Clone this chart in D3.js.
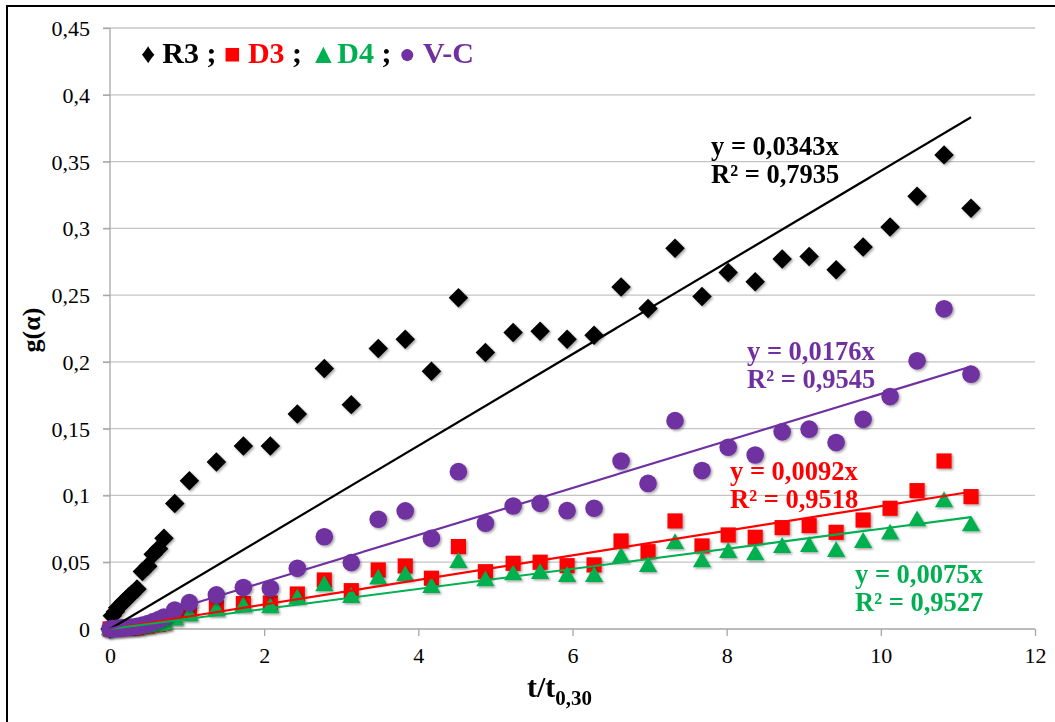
<!DOCTYPE html>
<html><head><meta charset="utf-8">
<script src="https://cdn.jsdelivr.net/npm/d3@7"></script>
<style>body{margin:0;background:#fff} svg{display:block} text{font-family:"Liberation Serif","Times New Roman",Tinos,"DejaVu Serif",serif}</style>
</head><body>
<svg id="chart" width="1055" height="722"></svg>
<script>
// ---- data ----
const xValues = [0, 0.03, 0.07, 0.10, 0.14, 0.17, 0.21, 0.24, 0.28, 0.35, 0.42, 0.49, 0.56, 0.63, 0.70, 0.84, 1.03,
  1.38, 1.73, 2.08, 2.43, 2.78, 3.13, 3.48, 3.83, 4.17, 4.52, 4.87, 5.23, 5.58, 5.93, 6.28, 6.63, 6.98, 7.33, 7.68, 8.02,
  8.37, 8.72, 9.07, 9.42, 9.77, 10.12, 10.47, 10.82, 11.17];
const r3Values = [0, 0.010, 0.013, 0.016, 0.018, 0.020, 0.022, 0.024, 0.026, 0.030, 0.043, 0.047, 0.056, 0.060, 0.068, 0.094, 0.111,
  0.125, 0.137, 0.137, 0.161, 0.195, 0.168, 0.210, 0.217, 0.193, 0.248, 0.207, 0.222, 0.223, 0.217, 0.220, 0.256, 0.240, 0.285, 0.249, 0.267,
  0.260, 0.277, 0.279, 0.269, 0.286, 0.301, 0.324, 0.355, 0.315];
const d3Values = [0, 0.0001, 0.0002, 0.0003, 0.0003, 0.0004, 0.0005, 0.0006, 0.0007, 0.0009, 0.0018, 0.0022, 0.0031, 0.0036, 0.0046, 0.0088, 0.0125,
  0.0160, 0.0190, 0.0195, 0.0262, 0.0367, 0.0287, 0.0442, 0.0472, 0.0380, 0.0617, 0.0429, 0.0492, 0.0500, 0.0474, 0.0480, 0.0659, 0.0579, 0.0809, 0.0622, 0.0704,
  0.0687, 0.0759, 0.0774, 0.0724, 0.0816, 0.0904, 0.1036, 0.1258, 0.0991];
const d4Values = [0, 0.0001, 0.0002, 0.0002, 0.0003, 0.0004, 0.0004, 0.0005, 0.0006, 0.0008, 0.0016, 0.0020, 0.0028, 0.0032, 0.0041, 0.0075, 0.0105,
  0.0142, 0.0172, 0.0165, 0.0230, 0.0330, 0.0242, 0.0380, 0.0404, 0.0317, 0.0504, 0.0367, 0.0412, 0.0422, 0.0399, 0.0399, 0.0542, 0.0474, 0.0646, 0.0509, 0.0579,
  0.0562, 0.0617, 0.0624, 0.0587, 0.0654, 0.0717, 0.0816, 0.0959, 0.0779];
const vcValues = [0, 0.0002, 0.0003, 0.0005, 0.0007, 0.0009, 0.0011, 0.0013, 0.0015, 0.0020, 0.0030, 0.0040, 0.0055, 0.0070, 0.0090, 0.0142, 0.0197,
  0.0255, 0.0310, 0.0305, 0.0454, 0.0691, 0.0497, 0.0822, 0.0884, 0.0679, 0.1178, 0.0792, 0.0921, 0.0941, 0.0886, 0.0904, 0.1258, 0.1090, 0.1560, 0.1186, 0.1361,
  0.1303, 0.1476, 0.1496, 0.1396, 0.1570, 0.1740, 0.2008, 0.2397, 0.1908];
const seriesNames = ["R3", "D3", "D4", "V-C"];
const trendSlopes = ["0,0343", "0,0092", "0,0075", "0,0176"];
const trendR2 = ["0,7935", "0,9518", "0,9527", "0,9545"];
const yTickLabels = ["0", "0,05", "0,1", "0,15", "0,2", "0,25", "0,3", "0,35", "0,4", "0,45"];
const xTickLabels = ["0", "2", "4", "6", "8", "10", "12"];

(function draw() {
const svg = d3.select("#chart");
const W = 1055, H = 722;
const pLeft = 110, pRight = 1035, pTop = 28, pBottom = 629;
const x = d3.scaleLinear().domain([0, 12]).range([pLeft, pRight]);
const y = d3.scaleLinear().domain([0, 0.45]).range([pBottom, pTop]);

svg.append("rect").attr("width", W).attr("height", H).attr("fill", "#fff");
svg.append("rect").attr("x", 7).attr("y", 6).attr("width", 1200).attr("height", 900)
  .attr("fill", "none").attr("stroke", "#000").attr("stroke-width", 2);

const defs = svg.append("defs");
const f = defs.append("filter").attr("id", "sh").attr("x", "-50%").attr("y", "-50%").attr("width", "200%").attr("height", "200%");
f.append("feDropShadow").attr("dx", 1.5).attr("dy", 1.5).attr("stdDeviation", 1.2)
  .attr("flood-color", "#000").attr("flood-opacity", 0.35);

// gridlines
const yTicks = yTickLabels.map((_, i) => i * 0.05);
svg.append("g").selectAll("line").data(yTicks.slice(1)).join("line")
  .attr("x1", pLeft - 7).attr("x2", pRight).attr("y1", d => y(d)).attr("y2", d => y(d))
  .attr("stroke", "#c4c4c4").attr("stroke-width", 1.3);

// y axis
const yAxis = d3.axisLeft(y).tickValues(yTicks).tickSize(7).tickFormat((d, i) => yTickLabels[i]);
const gy = svg.append("g").attr("transform", `translate(${pLeft},0)`).call(yAxis);
gy.attr("font-family", null);
gy.select(".domain").attr("stroke", "#a6a6a6").attr("stroke-width", 1.3).attr("d", `M0,${pBottom}V${pTop}`);
gy.selectAll(".tick line").attr("stroke", "#a6a6a6").attr("stroke-width", 1.3);
gy.selectAll(".tick text").attr("font-size", 22).attr("fill", "#000")
  .attr("x", -20).attr("dy", "0.34em");

// x axis
const xTicks = xTickLabels.map(Number);
const xAxis = d3.axisBottom(x).tickValues(xTicks).tickSize(7).tickFormat((d, i) => xTickLabels[i]);
const gx = svg.append("g").attr("transform", `translate(0,${pBottom})`).call(xAxis);
gx.attr("font-family", null);
gx.select(".domain").attr("stroke", "#a6a6a6").attr("stroke-width", 1.3).attr("d", `M${pLeft},0H${pRight}`);
gx.selectAll(".tick line").attr("stroke", "#a6a6a6").attr("stroke-width", 1.3);
gx.selectAll(".tick text").attr("font-size", 22).attr("fill", "#000")
  .attr("y", 18).attr("dy", "0.71em");

// series
const series = [
  {name: seriesNames[0], vals: r3Values, color: "#000000", sym: "diamond"},
  {name: seriesNames[1], vals: d3Values, color: "#FF0000", sym: "square"},
  {name: seriesNames[2], vals: d4Values, color: "#00B050", sym: "triangle"},
  {name: seriesNames[3], vals: vcValues, color: "#7030A0", sym: "circle"}
];
const symbolGen = {
  diamond: d3.symbol().type(d3.symbolSquare).size(190),
  square: d3.symbol().type(d3.symbolSquare).size(230),
  triangle: d3.symbol().type(d3.symbolTriangle).size(145),
  circle: d3.symbol().type(d3.symbolCircle).size(245)
};
series.forEach(s => {
  const pts = xValues.map((xv, i) => [xv, s.vals[i]]);
  svg.append("g").attr("filter", "url(#sh)").selectAll("path").data(pts).join("path")
    .attr("d", symbolGen[s.sym]())
    .attr("transform", d => `translate(${x(d[0])},${y(d[1])})` + (s.sym === "diamond" ? " rotate(45)" : "") + (s.sym === "triangle" ? " translate(0,1)" : ""))
    .attr("fill", s.color);
});

// trendlines
const xMax = d3.max(xValues);
series.forEach((s, i) => {
  const a = parseFloat(trendSlopes[i].replace(",", "."));
  svg.append("line")
    .attr("x1", x(0)).attr("y1", y(0)).attr("x2", x(xMax)).attr("y2", y(a * xMax))
    .attr("stroke", s.color).attr("stroke-width", 2.2);
});

// trendline labels
const labelPos = [[711, 155], [730, 480], [855, 583], [747, 360]];
series.forEach((s, i) => {
  const t = svg.append("text").attr("font-weight", "bold")
    .attr("font-size", 26.5).attr("fill", s.color);
  t.append("tspan").attr("x", labelPos[i][0]).attr("y", labelPos[i][1]).text(`y = ${trendSlopes[i]}x`);
  t.append("tspan").attr("x", labelPos[i][0]).attr("y", labelPos[i][1] + 28).text(`R² = ${trendR2[i]}`);
});

// legend
const leg = svg.append("text").attr("x", 141).attr("y", 63)
  .attr("font-weight", "bold").attr("font-size", 30);
const glyphs = ["♦", "■", "▲", "●"];
series.forEach((s, i) => {
  leg.append("tspan").attr("fill", s.color).attr("font-size", 28).text(glyphs[i] + (i === 2 ? "" : " "));
  leg.append("tspan").attr("fill", s.color).text(s.name);
  if (i < series.length - 1) leg.append("tspan").attr("fill", "#000").text(" ; ");
});

// axis titles
const xt = svg.append("text").attr("x", 527).attr("y", 697)
  .attr("font-weight", "bold").attr("font-size", 30).attr("fill", "#000");
xt.append("tspan").text("t/t");
xt.append("tspan").attr("font-size", 21).attr("dy", 8).text("0,30");

svg.append("text").attr("transform", "translate(40,330) rotate(-90)").attr("text-anchor", "middle")
  .attr("font-weight", "bold").attr("font-size", 26).attr("fill", "#000")
  .text("g(α)");
})();
</script>
</body></html>
